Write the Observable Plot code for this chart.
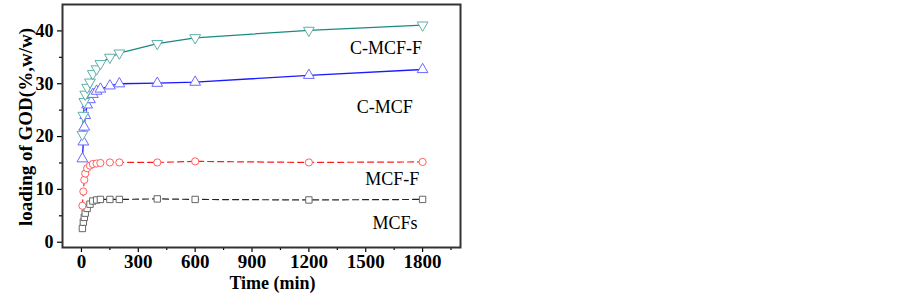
<!DOCTYPE html>
<html><head><meta charset="utf-8">
<script src="https://cdn.jsdelivr.net/npm/d3@7"></script>
<script src="https://cdn.jsdelivr.net/npm/@observablehq/plot@0.6"></script>
<style>body{margin:0;background:#fff}</style>
</head><body><div id="chart"></div>
<script>
const times = [5, 10, 15, 20, 30, 45, 60, 80, 100, 150, 200, 400, 600, 1200, 1800];
const cmcff = [20.4, 24.0, 26.6, 28.0, 29.3, 30.3, 31.9, 32.8, 33.8, 35.0, 35.8, 37.6, 38.7, 40.1, 41.1];
const cmcf  = [15.8, 19.0, 21.8, 24.0, 26.0, 27.0, 28.0, 28.6, 29.0, 29.6, 30.0, 30.1, 30.3, 31.6, 32.7];
const mcff  = [6.9, 9.6, 11.8, 13.0, 14.0, 14.5, 14.8, 14.9, 15.0, 15.1, 15.1, 15.1, 15.3, 15.1, 15.2];
const mcfs  = [2.6, 3.8, 4.7, 5.5, 6.4, 7.2, 7.8, 8.0, 8.1, 8.1, 8.1, 8.2, 8.1, 8.0, 8.1];
const xTicks = [0, 300, 600, 900, 1200, 1500, 1800];
const xMinor = [150, 450, 750, 1050, 1350, 1650, 1950];
const yTicks = [0, 10, 20, 30, 40];
const yMinor = [5, 15, 25, 35];
const seriesLabels = [
  {name: "C-MCF-F", t: 1607, v: 36.8},
  {name: "C-MCF", t: 1600, v: 25.5},
  {name: "MCF-F", t: 1640, v: 12.0},
  {name: "MCFs", t: 1655, v: 3.5}
];
const rows = (vals) => times.map((t, i) => ({t, v: vals[i]}));

const chart = Plot.plot({
  width: 903, height: 294,
  marginLeft: 62, marginRight: 443, marginTop: 4, marginBottom: 47,
  style: {fontFamily: "Liberation Serif, Times New Roman, serif", fontWeight: "bold", fontSize: "18px", color: "#000", background: "#fff"},
  x: {domain: [-100, 2000]},
  y: {domain: [-1, 45]},
  marks: [
    Plot.axisX({ticks: xTicks, tickFormat: "d", tickSize: 5, tickPadding: 2, label: null, fontSize: 19, fontWeight: "bold", strokeWidth: 1.2}),
    Plot.axisX({ticks: xMinor, tickSize: 3, text: null, label: null, strokeWidth: 1.2}),
    Plot.axisY({ticks: yTicks, tickFormat: "d", tickSize: 5, tickPadding: 4, label: null, fontSize: 18, fontWeight: "bold", strokeWidth: 1.2}),
    Plot.axisY({ticks: yMinor, tickSize: 3, text: null, label: null, strokeWidth: 1.2}),
    Plot.line(rows(mcfs), {x: "t", y: "v", stroke: "#222", strokeWidth: 1.2, strokeDasharray: "6,4"}),
    Plot.line(rows(mcff), {x: "t", y: "v", stroke: "#ff1a1a", strokeWidth: 1.2, strokeDasharray: "6,4"}),
    Plot.line(rows(cmcf), {x: "t", y: "v", stroke: "#1a1aff", strokeWidth: 1.3}),
    Plot.line(rows(cmcff), {x: "t", y: "v", stroke: "#1a8a80", strokeWidth: 1.3}),
    Plot.dot(rows(mcfs), {x: "t", y: "v", symbol: "square", r: 3.6, stroke: "#666", fill: "white", strokeWidth: 1}),
    Plot.dot(rows(mcff), {x: "t", y: "v", symbol: "circle", r: 3.6, stroke: "#ff6060", fill: "white", strokeWidth: 1}),
    Plot.dot(rows(cmcf), {x: "t", y: "v", symbol: "triangle", r: 4, stroke: "#6a6aff", fill: "white", strokeWidth: 1}),
    Plot.dot(rows(cmcff), {x: "t", y: "v", symbol: "triangle", rotate: 180, r: 4, stroke: "#5fb0a8", fill: "white", strokeWidth: 1}),
    Plot.text(seriesLabels, {x: "t", y: "v", text: "name", fontSize: 18, fontWeight: "normal", fill: "#000", textAnchor: "middle"}),
    Plot.text(["Time (min)"], {frameAnchor: "bottom", textAnchor: "middle", dx: 11, dy: 41, lineAnchor: "bottom", fontSize: 18, fontWeight: "bold", fill: "#000"}),
    Plot.text(["loading of GOD(%,w/w)"], {frameAnchor: "left", textAnchor: "middle", lineAnchor: "middle", rotate: -90, dx: -37, dy: 1, fontSize: 19, fontWeight: "bold", fill: "#000"}),
    Plot.frame({stroke: "#333", strokeWidth: 2})
  ]
});
document.getElementById("chart").appendChild(chart);
</script>
</body></html>
